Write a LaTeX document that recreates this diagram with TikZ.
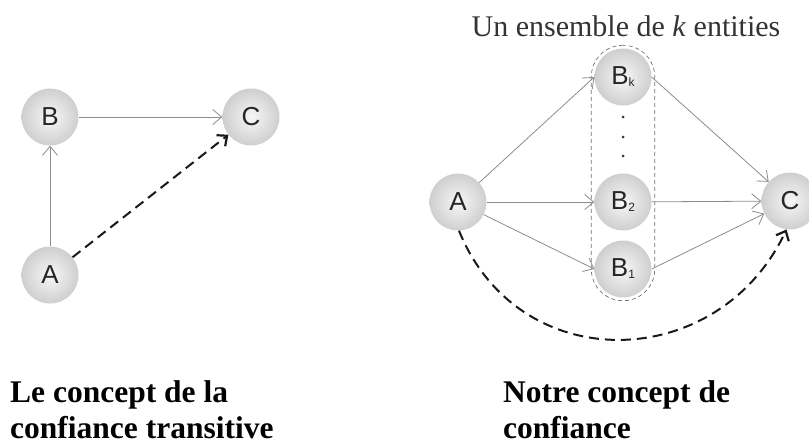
\documentclass[tikz,border=0pt]{standalone}
\usepackage{fontspec}
\setmainfont{Liberation Serif}
\newfontfamily\nodefont{Liberation Sans}
\usetikzlibrary{arrows.meta,fit}
\begin{document}
\begin{tikzpicture}[x=1pt,y=-1pt,
  ent/.style={circle, minimum size=57pt, inner sep=0pt, shading=radial,
    inner color=black!3, outer color=black!19,
    font=\nodefont\fontsize{26}{26}\selectfont, text=black!85},
  link/.style={draw=black!45, line width=0.8pt, -{Straight Barb[length=9pt,width=15pt]}},
  trust/.style={draw=black!90, line width=2pt, dash pattern=on 10pt off 6pt,
    -{Straight Barb[length=8pt,width=14pt,line width=2.2pt]}},
  group/.style={draw=black!55, line width=0.7pt, dash pattern=on 4pt off 3pt,
    rounded corners=31.5pt, inner sep=3pt},
  titletext/.style={font=\fontsize{30}{32}\selectfont, text=black!80},
  captiontext/.style={font=\bfseries\fontsize{31.5}{36}\selectfont, align=left,
    inner sep=0pt, anchor=north west}
]
\useasboundingbox (0,0) rectangle (809,444);

% ---- left diagram ----
\node[ent] (B) at (50,117) {B};
\node[ent] (C) at (251,117) {C};
\node[ent] (A) at (50,275) {A};
\draw[link] (A) -- (B);
\draw[link] (B) -- (C);
\draw[trust] (A) -- (C);

\node[captiontext] (capL) at (10,380) {Le concept de la\\confiance transitive};

% ---- right diagram ----
\node[ent] (A2) at (458,202) {A};
\node[ent] (Bk) at (623,77) {B{\fontsize{12}{12}\selectfont\raisebox{-2pt}{k}}};
\node[ent] (B2) at (623,202) {B{\fontsize{12}{12}\selectfont\raisebox{-2pt}{2}}};
\node[ent] (B1) at (623,269) {B{\fontsize{12}{12}\selectfont\raisebox{-2pt}{1}}};
\node[ent] (C2) at (790,201) {C};

\node[group, fit=(Bk)(B1)] (grp) {};
\foreach \yy [count=\i] in {117,137,156}
  \fill[black!80] (623,\yy) circle (1.5pt) coordinate (dot\i);

\draw[link] (A2) -- (Bk.west);
\draw[link] (A2) -- (B2);
\draw[link] (A2) -- (B1.west);
\draw[link] (Bk.east) -- (C2);
\draw[link] (B2) -- (C2);
\draw[link] (B1.east) -- (C2);
\draw[trust] (A2.-88) .. controls +(60,148) and +(-68,144) .. (C2.-97);

\node[titletext] (ttl) at (626,26) {Un ensemble de \textit{k} entities};
\node[captiontext] (capR) at (503,380) {Notre concept de\\confiance};
\end{tikzpicture}
\end{document}
